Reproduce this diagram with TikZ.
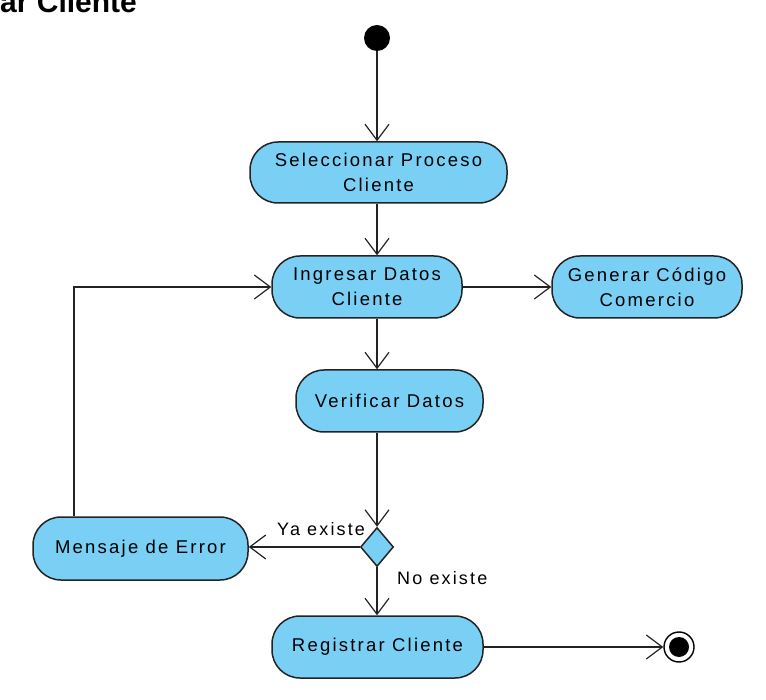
\documentclass[tikz,border=0pt]{standalone}
\usepackage{fontspec}
\setmainfont{Liberation Sans}
\newfontfamily\vpfont[LetterSpace=12]{Liberation Sans}
\usepackage{xcolor}
\usetikzlibrary{arrows.meta,shapes.geometric}
\definecolor{actblue}{RGB}{122,207,245}
\definecolor{edgeclr}{RGB}{35,35,35}

\begin{document}
\begin{tikzpicture}[x=1pt,y=-1pt,
  actbox/.style={draw=edgeclr,fill=actblue,line width=1.5pt,rounded corners=28pt,
    inner sep=0pt,align=center,font=\vpfont\fontsize{18.5}{25}\selectfont},
  decbox/.style={draw=edgeclr,fill=actblue,line width=1.5pt,diamond,inner sep=0pt,
    minimum width=33pt,minimum height=39pt},
  flow/.style={draw=edgeclr,line width=1.2pt,-{Straight Barb[length=16pt,width=24pt,line width=1.2pt]}},
  guard/.style={inner sep=0pt,font=\vpfont\fontsize{18}{25}\selectfont}]
\useasboundingbox (0,0) rectangle (766,700);
\node[anchor=base west,inner sep=0pt,font=\bfseries\fontsize{30}{34}\selectfont] (title) at (0,13) {ar Cliente};
% initial and final
\node[circle,fill=black,inner sep=0pt,minimum size=26pt] (init) at (377,38) {};
\node[circle,draw=black,line width=1.4pt,fill=white,inner sep=0pt,minimum size=30pt] (fin) at (679,647) {};
\fill[black] (fin) circle (10pt);
% activities
\node[actbox,minimum width=257pt,minimum height=61pt] (sel) at (378.5,172.5) {Seleccionar Proceso\\Cliente};
\node[actbox,minimum width=190pt,minimum height=62pt] (ing) at (367,287) {Ingresar Datos\\Cliente};
\node[actbox,minimum width=190pt,minimum height=62pt] (gen) at (647,287) {Generar Código\\Comercio};
\node[actbox,minimum width=187pt,minimum height=62pt] (ver) at (389.5,401) {Verificar Datos};
\node[decbox] (dec) at (377,547) {};
\node[actbox,minimum width=215pt,minimum height=63pt] (err) at (140.5,548.5) {Mensaje de Error};
\node[actbox,minimum width=211pt,minimum height=62pt] (reg) at (377.5,647) {Registrar Cliente};
\coordinate (back) at (74,287);
% flows
\draw[flow] (init) -- (init |- sel.north);
\draw[flow] (sel.south -| init) -- (ing.north -| init);
\draw[flow] (ing) -- (gen);
\draw[flow] (ing.south -| init) -- (ver.north -| init);
\draw[flow] (ver.south -| dec) -- (dec.north);
\draw[flow] (dec.west) -- (err.east |- dec.west);
\draw[flow] (dec.south) -- (reg.north -| dec);
\draw[flow] (reg) -- (fin);
\draw[flow] (err.north -| back) -- (back) -- (ing.west);
\node[guard,anchor=base west] (yes) at (277,535) {Ya existe};
\node[guard,anchor=base west] (no) at (397,584) {No existe};
\end{tikzpicture}
\end{document}
